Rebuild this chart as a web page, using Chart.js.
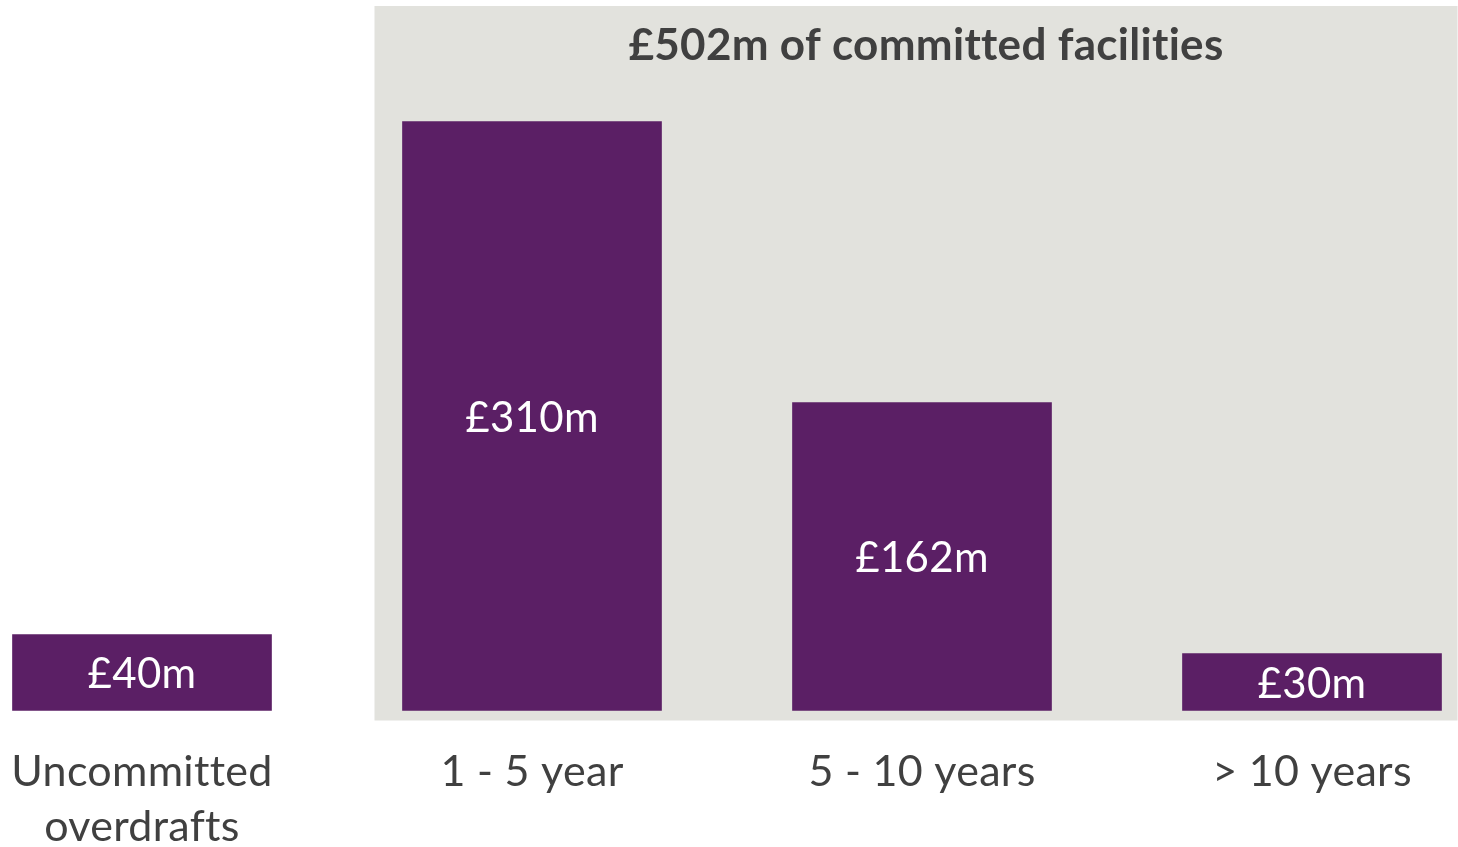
<!DOCTYPE html>
<html>
<head>
<meta charset="utf-8">
<script src="https://cdn.jsdelivr.net/npm/chart.js@4/dist/chart.umd.min.js"></script>
<style>
  html, body { margin: 0; padding: 0; background: #ffffff; }
  #wrap { width: 1458px; height: 847px; position: relative; }
</style>
</head>
<body>
<div id="wrap"><canvas id="chart"></canvas></div>
<script>
// Facility maturity profile (£m)
const categories = [['Uncommitted', 'overdrafts'], '1 - 5 year', '5 - 10 years', '> 10 years'];
const amounts = [40, 310, 162, 30];
const valueLabels = ['£40m', '£310m', '£162m', '£30m'];
const panelTitle = '£502m of committed facilities';

const FONT = 'Lato, "Open Sans", sans-serif';
const PURPLE = '#5B1F65';
const PANEL = '#E2E2DD';
const TEXT = '#404040';

// Slight tracking keeps "tt"/"ti" as separate letters instead of ligatures
const textTracking = {
  id: 'textTracking',
  beforeDraw(chart) { chart.ctx.letterSpacing = '0.3px'; }
};

// Grey panel behind the committed facilities (bars 1..3) plus its heading
const committedPanel = {
  id: 'committedPanel',
  beforeDatasetsDraw(chart) {
    const bars = chart.getDatasetMeta(0).data;
    const first = bars[1], last = bars[3];
    const ctx = chart.ctx;
    const left = first.x - first.width / 2 - 28;
    const right = last.x + last.width / 2 + 16;
    const bottom = first.base + 10;
    const top = 6;
    ctx.save();
    ctx.fillStyle = PANEL;
    ctx.fillRect(left, top, right - left, bottom - top);
    ctx.fillStyle = TEXT;
    ctx.font = 'bold 44px ' + FONT;
    ctx.letterSpacing = '0.3px';
    ctx.textAlign = 'center';
    ctx.textBaseline = 'middle';
    const cx = (first.x - first.width / 2 + last.x + last.width / 2) / 2 + 4;
    ctx.fillText(panelTitle, cx, 46);
    ctx.restore();
  }
};

// White amount labels centred inside each bar
const barValues = {
  id: 'barValues',
  afterDatasetsDraw(chart) {
    const bars = chart.getDatasetMeta(0).data;
    const ctx = chart.ctx;
    ctx.save();
    ctx.fillStyle = '#ffffff';
    ctx.font = '42px ' + FONT;
    ctx.letterSpacing = '0.3px';
    ctx.textAlign = 'center';
    ctx.textBaseline = 'middle';
    bars.forEach((bar, i) => {
      ctx.fillText(valueLabels[i], bar.x, (bar.y + bar.base) / 2 + 2);
    });
    ctx.restore();
  }
};

new Chart(document.getElementById('chart'), {
  type: 'bar',
  data: {
    labels: categories,
    datasets: [{
      data: amounts,
      backgroundColor: PURPLE,
      borderWidth: 0,
      barThickness: 259,
      clip: false
    }]
  },
  options: {
    responsive: true,
    maintainAspectRatio: false,
    animation: false,
    layout: { padding: { left: 142, right: 146, top: 64.5, bottom: 0 } },
    plugins: {
      legend: { display: false },
      tooltip: { enabled: false },
      title: { display: false }
    },
    scales: {
      x: {
        offset: false,
        grid: { display: false, drawTicks: false },
        border: { display: false },
        ticks: {
          color: TEXT,
          padding: 34,
          maxRotation: 0,
          autoSkip: false,
          font: { family: FONT, size: 43, lineHeight: 1.28 }
        },
        afterFit(scale) {
          scale.height = 136.5;
          scale.paddingLeft = 0;
          scale.paddingRight = 0;
        }
      },
      y: {
        display: false,
        min: 0,
        max: 340
      }
    }
  },
  plugins: [textTracking, committedPanel, barValues]
});
</script>
</body>
</html>
